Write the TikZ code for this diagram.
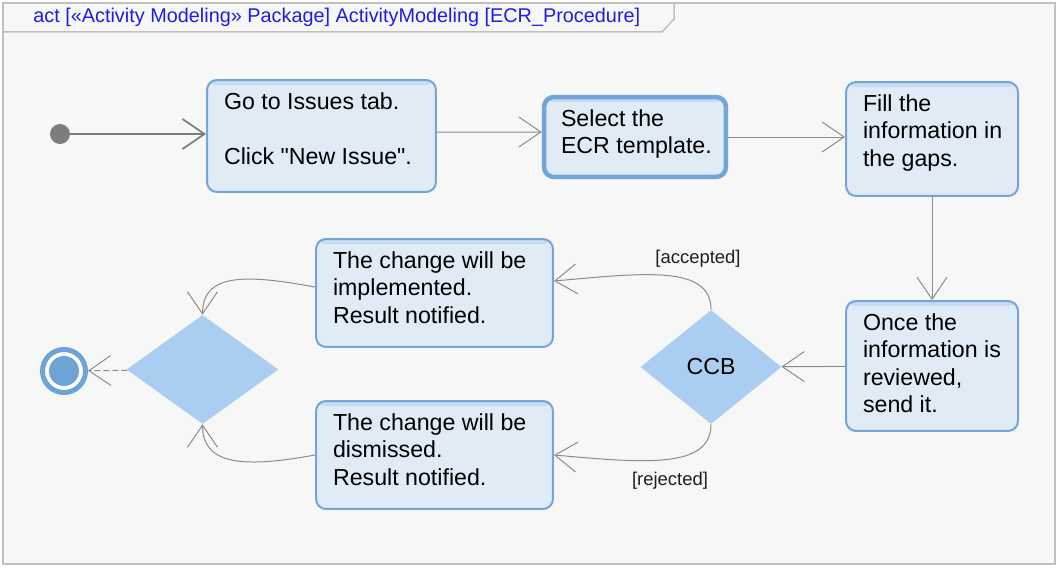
\documentclass[tikz,border=0pt]{standalone}
\usepackage{fontspec}
\newfontfamily\umlfont{Liberation Sans}
\usetikzlibrary{shapes.geometric, arrows.meta}

\definecolor{actfill}{RGB}{225, 235, 246}
\definecolor{actband}{RGB}{200, 219, 241}
\definecolor{actborder}{RGB}{114, 165, 218}
\definecolor{decfill}{RGB}{170, 206, 241}
\definecolor{finalblue}{RGB}{111, 163, 216}
\definecolor{edgegray}{RGB}{140, 140, 140}
\definecolor{initgray}{RGB}{125, 125, 125}
\definecolor{framebg}{RGB}{247, 247, 247}
\definecolor{framegray}{RGB}{192, 192, 192}
\definecolor{titleblue}{RGB}{30, 30, 225}
\definecolor{guardtext}{RGB}{35, 30, 25}

% text block of an action, top left
\newcommand{\actlines}[3]{\parbox[c][#2][t]{#1}{\begin{tabular}[t]{@{}l@{}}#3\end{tabular}}}

\begin{document}
\begin{tikzpicture}[
    x=0.02cm, y=-0.02cm,
    act/.style={draw=actborder, line width=0.04cm, fill=actfill, rounded corners=0.2cm,
      inner xsep=0.34cm, inner ysep=0.2cm, font=\umlfont\fontsize{13.2}{15.6}\selectfont,
      path picture={\fill[actband] (path picture bounding box.north west)
        rectangle ([yshift=-0.1cm]path picture bounding box.north east);}},
    decision/.style={diamond, fill=decfill, inner sep=0pt, font=\umlfont\fontsize{13.2}{15.6}\selectfont},
    initial/.style={circle, fill=initgray, minimum size=0.4cm, inner sep=0pt},
    final/.style={circle, draw=finalblue, line width=0.1cm, fill=white, minimum size=0.86cm, inner sep=0pt,
      path picture={\fill[finalblue] (path picture bounding box.center) circle (0.3cm);}},
    flow/.style={draw=edgegray, line width=0.02cm, -{Straight Barb[length=0.44cm, width=0.6cm]}},
    guard/.style={font=\umlfont\fontsize{10.5}{12}\selectfont, text=guardtext, inner sep=0pt},
    title/.style={font=\umlfont\fontsize{11.3}{13}\selectfont, text=titleblue, inner sep=0pt},
  ]
    \useasboundingbox (0,0) rectangle (1060,571);

    % === diagram frame with name tab ===
    \draw[framegray, fill=framebg, line width=0.03cm] (3,3) rectangle (1055,564);
    \draw[framegray, line width=0.03cm] (3,32) -- (662,32) -- (674,19) -- (674,3);
    \node[title, anchor=west] (hdr) at (33,17) {act [«Activity Modeling» Package] ActivityModeling [ECR\_Procedure]};

    % === actions ===
    \node[act] (issues) at (321.5,136) {\actlines{3.9cm}{1.84cm}{Go to Issues tab.\\ \\Click "New Issue".}};
    \node[act, line width=0.09cm] (template) at (635,137) {\actlines{2.96cm}{1.2cm}{Select the\\ECR template.}};
    \node[act] (gaps) at (932,139) {\actlines{2.76cm}{1.88cm}{Fill the\\information in\\the gaps.}};
    \node[act] (send) at (932,366) {\actlines{2.76cm}{2.2cm}{Once the\\information is\\reviewed,\\send it.}};
    \node[act] (implemented) at (434.5,293) {\actlines{4.06cm}{1.76cm}{The change will be\\implemented.\\Result notified.}};
    \node[act] (dismissed) at (434.5,455) {\actlines{4.06cm}{1.76cm}{The change will be\\dismissed.\\Result notified.}};

    % --- decision and merge ---
    \node[decision, minimum width=2.82cm, minimum height=2.28cm] (ccb) at (711,367) {CCB};
    \node[decision, minimum width=3.04cm, minimum height=2.18cm] (merge) at (202.5,369.5) {};

    % --- start and end ---
    \node[initial] (start) at (60,134) {};
    \node[final] (stop) at (64,371) {};

    % === flows ===
    \draw[flow, line width=0.035cm, draw=initgray] (start) -- (start -| issues.west);
    \draw[flow] ([yshift=0.08cm]issues.east) -- ([yshift=0.1cm]template.west);
    \draw[flow] (template) -- (template -| gaps.west);
    \draw[flow] (gaps) -- (send);
    \draw[flow] (send) -- (ccb);
    \draw[flow] (ccb.north) .. controls +(0,-45) and +(90,-8) .. ([yshift=0.24cm]implemented.east);
    \draw[flow] (ccb.south) .. controls +(0,45) and +(90,8) .. (dismissed.east);
    \draw[flow] ([yshift=0.12cm]implemented.west) .. controls +(-66,-12) and +(0,-43) .. (merge.north);
    \draw[flow] (dismissed.west) .. controls +(-66,12) and +(0,43) .. (merge.south);
    \draw[flow, dash pattern=on 0.12cm off 0.06cm] (merge) -- (stop);

    % guards
    \node[guard] (accepted) at (698,259) {[accepted]};
    \node[guard] (rejected) at (670,481) {[rejected]};
  \end{tikzpicture}
\end{document}
